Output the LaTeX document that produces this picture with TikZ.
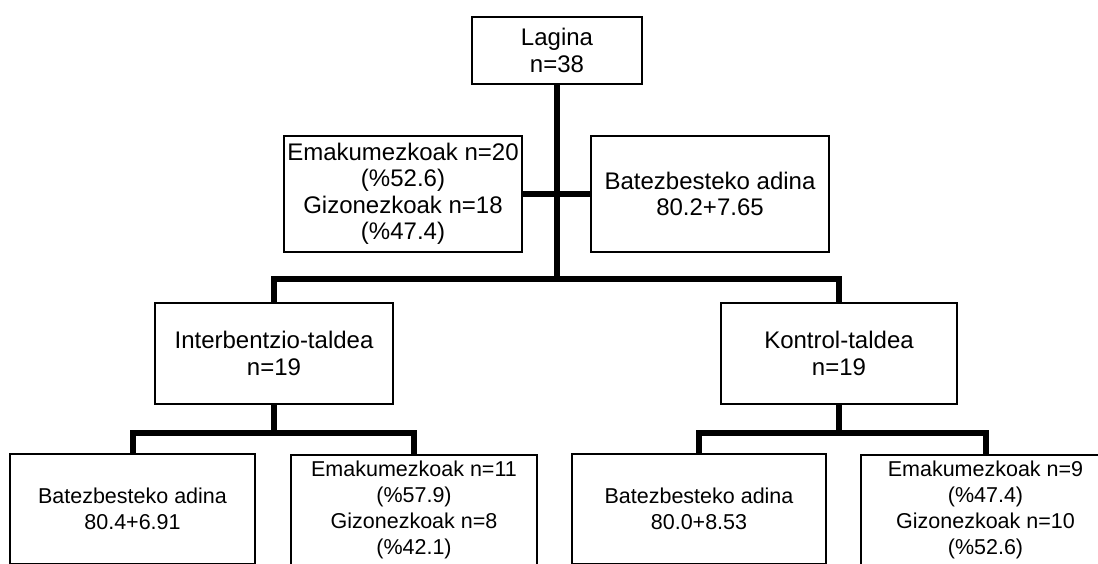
\documentclass[tikz,border=0pt]{standalone}
\usepackage{fontspec}
\setmainfont{Liberation Sans}
\begin{document}
\begin{tikzpicture}[x=1pt,y=-1pt,
  box/.style={draw=black,line width=1.3pt,inner sep=0pt,outer sep=0pt,align=center,
    font=\fontsize{24}{26.5}\selectfont},
  smallbox/.style={box,font=\fontsize{21.5}{26}\selectfont},
  link/.style={draw=black,line width=6pt,line join=miter}]
\useasboundingbox (0,0) rectangle (1098,563);
\clip (0,0) rectangle (1098,563);
\fill[white] (0,0) rectangle (1098,563);
% nodes
\node[box,minimum width=170pt,minimum height=67pt] (lag) at (557,50.5) {Lagina\\n=38};
\node[box,minimum width=238pt,minimum height=116pt] (sex) at (403,194) {Emakumezkoak n=20\\(\%52.6)\\Gizonezkoak n=18\\(\%47.4)};
\node[box,minimum width=238pt,minimum height=116pt] (age) at (710,194) {Batezbesteko adina\\80.2+7.65};
\node[box,minimum width=238pt,minimum height=101pt] (int) at (274,353.5) {Interbentzio-taldea\\n=19};
\node[box,minimum width=236pt,minimum height=101pt] (kon) at (839,353.5) {Kontrol-taldea\\n=19};
\node[smallbox,minimum width=245pt,minimum height=110pt] (ia) at (132.5,509) {Batezbesteko adina\\80.4+6.91};
\node[smallbox,minimum width=246pt,minimum height=110pt] (is) at (414,510) {Emakumezkoak n=11\\(\%57.9)\\Gizonezkoak n=8\\(\%42.1)};
\node[smallbox,minimum width=254pt,minimum height=110pt] (ka) at (699,509) {Batezbesteko adina\\80.0+8.53};
\node[smallbox,minimum width=249pt,minimum height=110pt] (ks) at (985.5,510) {Emakumezkoak n=9\\(\%47.4)\\Gizonezkoak n=10\\(\%52.6)};
% junction points
\coordinate (top) at (557,279);
\coordinate (ij) at (274,433);
\coordinate (kj) at (839,433);
% connectors
\draw[link] (lag.south) -- (top);
\draw[link] (sex.east) -- (age.west);
\draw[link] (int.north) |- (top) -| (kon.north);
\draw[link] (int.south) -- (ij);
\draw[link] (ia.north) |- (ij) -| (is.north);
\draw[link] (kon.south) -- (kj);
\draw[link] (ka.north) |- (kj) -| (ks.north);
\end{tikzpicture}
\end{document}
